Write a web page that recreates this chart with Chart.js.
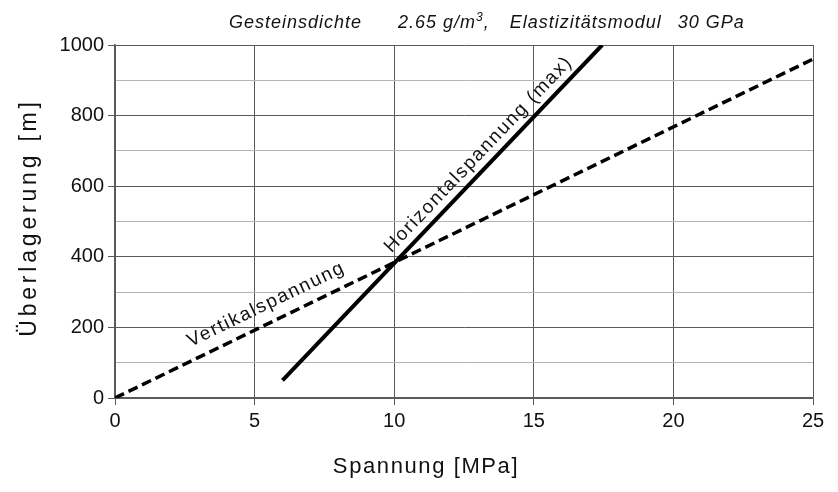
<!DOCTYPE html>
<html><head><meta charset="utf-8">
<script src="https://cdn.jsdelivr.net/npm/chart.js@4"></script>
<style>html,body{margin:0;padding:0;background:#fff}</style>
</head><body>
<canvas id="c" width="838" height="492"></canvas>
<script>
// ---- data ----
const vertikalX = [0, 25];
const vertikalY = [0, 960];
const horizontalX = [6, 17.45];
const horizontalY = [50, 1000];
const xTickValues = [0, 5, 10, 15, 20, 25];
const yTickValues = [0, 200, 400, 600, 800, 1000];
const xTitle = 'Spannung [MPa]';
const yTitle = 'Überlagerung [m]';
const titleParts = ['Gesteinsdichte', '2.65 g/m', '3', ',', 'Elastizitätsmodul', '30 GPa'];
const lineLabels = ['Vertikalspannung', 'Horizontalspannung (max)'];

const FONT = '"Liberation Sans", Arial, sans-serif';

function pts(xs, ys) { return xs.map((x, i) => ({ x: x, y: ys[i] })); }

const textPlugin = {
  id: 'texts',
  afterDatasetsDraw(chart) {
    const ctx = chart.ctx, ca = chart.chartArea;
    const xs = chart.scales.x, ys = chart.scales.y;
    ctx.save();
    ctx.fillStyle = '#111';
    // line labels
    const specs = [
      { ds: 0, t: 0.228, off: 18, text: lineLabels[0] },
      { ds: 1, t: 0.645, off: 14, text: lineLabels[1] }
    ];
    ctx.font = '19px ' + FONT;
    ctx.letterSpacing = '1.7px';
    ctx.textAlign = 'center';
    ctx.textBaseline = 'middle';
    specs.forEach(s => {
      const d = chart.data.datasets[s.ds].data;
      const p0 = { x: xs.getPixelForValue(d[0].x), y: ys.getPixelForValue(d[0].y) };
      const p1 = { x: xs.getPixelForValue(d[1].x), y: ys.getPixelForValue(d[1].y) };
      const a = Math.atan2(p1.y - p0.y, p1.x - p0.x);
      const px = p0.x + s.t * (p1.x - p0.x) + Math.sin(a) * s.off;
      const py = p0.y + s.t * (p1.y - p0.y) - Math.cos(a) * s.off;
      ctx.save();
      ctx.translate(px, py);
      ctx.rotate(a);
      ctx.fillText(s.text, 0, 0);
      ctx.restore();
    });
    // title
    ctx.textAlign = 'left';
    ctx.textBaseline = 'alphabetic';
    ctx.letterSpacing = '1px';
    const big = 'italic 18px ' + FONT, small = 'italic 12px ' + FONT;
    const gaps = [0, 36, 0, 0, 20, 16];
    let x = 229; const by = 28;
    titleParts.forEach((p, i) => {
      x += gaps[i];
      ctx.font = (i === 2) ? small : big;
      ctx.fillText(p, x, i === 2 ? by - 7 : by);
      x += ctx.measureText(p).width;
    });
    // x axis title
    ctx.font = '22px ' + FONT;
    ctx.letterSpacing = '1.6px';
    ctx.textAlign = 'center';
    ctx.textBaseline = 'middle';
    ctx.fillText(xTitle, 426, 467);
    // y axis title
    ctx.save();
    ctx.translate(30, (ca.top + ca.bottom) / 2 - 4);
    ctx.rotate(-Math.PI / 2);
    ctx.font = '23px ' + FONT;
    ctx.letterSpacing = '3.8px';
    ctx.fillText(yTitle, 0, 0);
    ctx.restore();
    ctx.restore();
  }
};

new Chart(document.getElementById('c'), {
  type: 'scatter',
  data: {
    datasets: [
      { label: lineLabels[0], data: pts(vertikalX, vertikalY), showLine: true, borderColor: '#000', borderWidth: 3.5, borderDash: [10, 5], pointRadius: 0, fill: false },
      { label: lineLabels[1], data: pts(horizontalX, horizontalY), showLine: true, borderColor: '#000', borderWidth: 4, pointRadius: 0, fill: false, borderCapStyle: 'butt' }
    ]
  },
  options: {
    responsive: false,
    animation: false,
    devicePixelRatio: 1,
    layout: { padding: { top: 45, right: 25, left: 0, bottom: 0 } },
    plugins: { legend: { display: false }, tooltip: { enabled: false }, title: { display: false } },
    scales: {
      x: {
        type: 'linear', min: 0, max: 25,
        afterFit(s) { s.height = 94; },
        afterBuildTicks(s) { s.ticks = xTickValues.map(v => ({ value: v })); },
        ticks: { color: '#111', font: { family: FONT, size: 20 }, padding: 4 },
        grid: { color: '#5a5a5a', lineWidth: 1, tickLength: 7, tickColor: '#5a5a5a' },
        border: { color: '#5a5a5a', width: 1.5 }
      },
      y: {
        type: 'linear', min: 0, max: 1000,
        afterFit(s) { s.width = 115; },
        ticks: {
          stepSize: 100, color: '#111', font: { family: FONT, size: 20 }, padding: 4,
          callback: v => yTickValues.includes(v) ? String(v) : ''
        },
        grid: {
          color: c => (c.tick && c.tick.value % 200 === 0) ? '#5a5a5a' : '#b5b5b5',
          tickColor: c => (c.tick && c.tick.value % 200 === 0) ? '#5a5a5a' : 'rgba(0,0,0,0)',
          lineWidth: 1, tickLength: 7
        },
        border: { color: '#5a5a5a', width: 1.5 }
      }
    }
  },
  plugins: [textPlugin]
});
</script>
</body></html>
